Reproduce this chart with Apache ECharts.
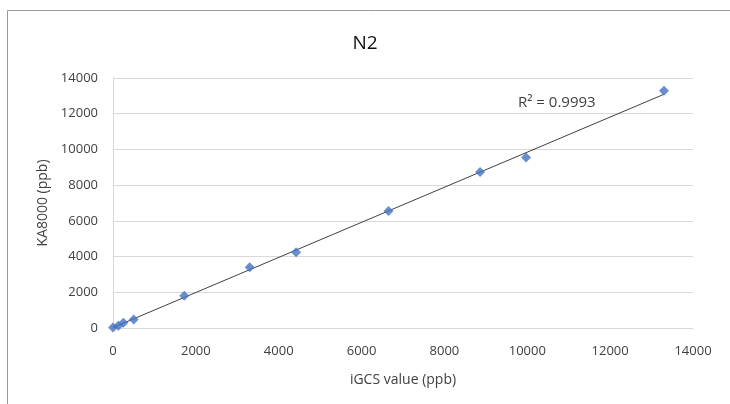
<!DOCTYPE html>
<html>
<head>
<meta charset="utf-8">
<script src="https://cdn.jsdelivr.net/npm/echarts@6/dist/echarts.min.js"></script>
<style>html,body{margin:0;padding:0;background:#fff;}#c{width:730px;height:404px;}</style>
</head>
<body>
<div id="c"></div>
<script>
var xValues = [0, 130, 250, 500, 1720, 3300, 4420, 6650, 8860, 9970, 13300];
var yValues = [30, 120, 290, 480, 1810, 3400, 4240, 6550, 8740, 9550, 13280];
var xTicks = [0, 2000, 4000, 6000, 8000, 10000, 12000, 14000];
var yTicks = [0, 2000, 4000, 6000, 8000, 10000, 12000, 14000];
var titleText = 'N2';
var xName = 'iGCS value (ppb)';
var yName = 'KA8000 (ppb)';
var r2Text = 'R² = 0.9993';

var pts = xValues.map(function (x, i) { return [x, yValues[i]]; });
// least-squares trendline
var n = pts.length, sx = 0, sy = 0, sxx = 0, sxy = 0;
pts.forEach(function (p) { sx += p[0]; sy += p[1]; sxx += p[0] * p[0]; sxy += p[0] * p[1]; });
var slope = (n * sxy - sx * sy) / (n * sxx - sx * sx);
var icpt = (sy - slope * sx) / n;
var xmin = Math.min.apply(null, xValues), xmax = Math.max.apply(null, xValues);
var trend = [[xmin, icpt + slope * xmin], [xmax, icpt + slope * xmax]];

var font = 'Open Sans';
var chart = echarts.init(document.getElementById('c'));
chart.setOption({
  animation: false,
  backgroundColor: '#fff',
  title: {
    text: titleText, left: 'center', top: 29,
    textStyle: { fontFamily: font, fontSize: 19, fontWeight: 'normal', color: '#111' }
  },
  grid: { left: 113, right: 37, top: 78, bottom: 76 },
  xAxis: {
    type: 'value', min: xTicks[0], max: xTicks[xTicks.length - 1], interval: 2000,
    name: xName, nameLocation: 'middle', nameGap: 45,
    nameTextStyle: { fontFamily: font, fontSize: 14, color: '#404040' },
    axisLine: { show: true, lineStyle: { color: '#d9d9d9' } },
    axisTick: { show: false },
    splitLine: { show: false },
    axisLabel: { fontFamily: font, fontSize: 13, color: '#404040', margin: 17,
      formatter: function (v) { return String(v); } }
  },
  yAxis: {
    type: 'value', min: yTicks[0], max: yTicks[yTicks.length - 1], interval: 2000,
    name: yName, nameLocation: 'middle', nameGap: 63, nameRotate: 90,
    nameTextStyle: { fontFamily: font, fontSize: 14, color: '#404040' },
    axisLine: { show: true, lineStyle: { color: '#d9d9d9' } },
    axisTick: { show: false },
    splitLine: { show: true, lineStyle: { color: '#d9d9d9', width: 1 } },
    axisLabel: { fontFamily: font, fontSize: 13, color: '#404040', margin: 15,
      formatter: function (v) { return String(v); } }
  },
  series: [
    {
      type: 'line', data: trend, symbol: 'none', silent: true,
      lineStyle: { color: '#404040', width: 1 }, z: 2
    },
    {
      type: 'scatter', data: pts, symbol: 'diamond', symbolSize: [10, 10],
      itemStyle: { color: '#4472C4' }, z: 3
    }
  ],
  graphic: [
    { type: 'polyline', shape: { points: [[7.5, 404], [7.5, 10.5], [730, 10.5]] },
      style: { fill: 'none', stroke: '#9a9a9a', lineWidth: 1 }, silent: true },
    { type: 'text', left: 518, top: 95,
      style: { text: r2Text, fontFamily: font, fontSize: 15, fill: '#404040' } }
  ]
});
</script>
</body>
</html>
